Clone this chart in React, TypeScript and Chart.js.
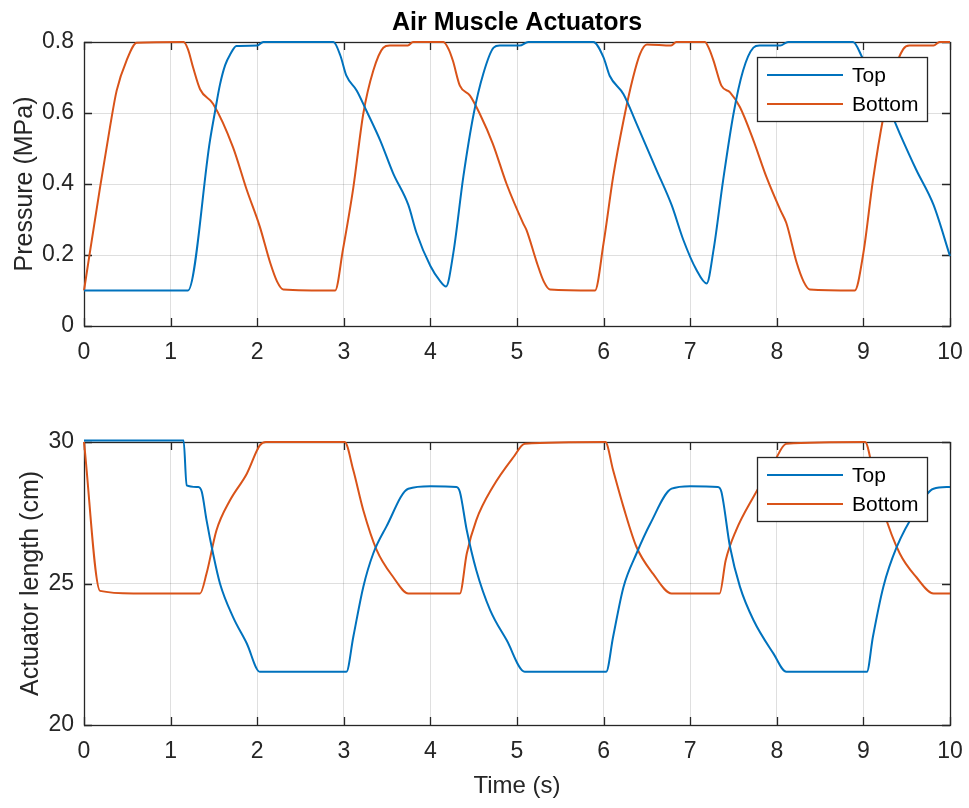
import React, { useEffect, useRef } from "react";
import { Chart, registerables } from "chart.js";
Chart.register(...registerables);

// ---------- data ----------
const timeTicks = [0, 1, 2, 3, 4, 5, 6, 7, 8, 9, 10];
const pressureTicks = [0, 0.2, 0.4, 0.6, 0.8];
const lengthTicks = [20, 25, 30];
const seriesNames = ["Top", "Bottom"];
const seriesColors = ["#0072BD", "#D95319"];
const chartTitle = "Air Muscle Actuators";
const pressureLabel = "Pressure (MPa)";
const lengthLabel = "Actuator length (cm)";
const timeLabel = "Time (s)";

const pressureTopT = [0, 1.2, 1.455, 1.51, 1.57, 1.63, 1.69, 1.76, 2.0, 2.07, 2.88, 2.96, 3.03, 3.15, 3.26, 3.42, 3.57, 3.745, 3.84, 4.0, 4.11, 4.18, 4.265, 4.38, 4.5, 4.61, 4.73, 4.8, 5.03, 5.13, 5.88, 6.0, 6.07, 6.23, 6.38, 6.61, 6.785, 6.92, 7.07, 7.19, 7.27, 7.38, 7.5, 7.61, 7.73, 7.8, 8.04, 8.13, 8.88, 8.98, 9.08, 9.23, 9.42, 9.61, 9.81, 10];
const pressureTopV = [0.1, 0.1, 0.523, 0.6, 0.68, 0.735, 0.766, 0.789, 0.79, 0.8, 0.8, 0.762, 0.705, 0.663, 0.607, 0.523, 0.43, 0.341, 0.262, 0.169, 0.127, 0.111, 0.206, 0.42, 0.598, 0.71, 0.784, 0.79, 0.79, 0.8, 0.8, 0.756, 0.705, 0.653, 0.57, 0.44, 0.341, 0.243, 0.159, 0.12, 0.215, 0.41, 0.598, 0.719, 0.784, 0.79, 0.79, 0.8, 0.8, 0.76, 0.705, 0.649, 0.542, 0.44, 0.341, 0.197];

const pressureBottomT = [0, 0.185, 0.3, 0.377, 0.49, 0.61, 1.15, 1.2, 1.26, 1.34, 1.49, 1.72, 1.88, 2.03, 2.15, 2.23, 2.3, 2.9, 2.99, 3.11, 3.225, 3.34, 3.456, 3.53, 3.74, 3.8, 4.15, 4.21, 4.26, 4.34, 4.457, 4.57, 4.72, 4.88, 5.07, 5.11, 5.23, 5.31, 5.38, 5.9, 6.0, 6.11, 6.23, 6.34, 6.42, 6.5, 6.78, 6.84, 7.17, 7.22, 7.27, 7.36, 7.46, 7.575, 7.73, 7.88, 8.04, 8.11, 8.23, 8.31, 8.38, 8.9, 9.0, 9.11, 9.23, 9.345, 9.46, 9.53, 9.81, 9.88, 10];
const pressureBottomV = [0.1, 0.39, 0.56, 0.663, 0.747, 0.798, 0.8, 0.78, 0.728, 0.667, 0.626, 0.504, 0.383, 0.28, 0.178, 0.125, 0.103, 0.1, 0.215, 0.39, 0.598, 0.719, 0.784, 0.79, 0.79, 0.8, 0.8, 0.78, 0.747, 0.677, 0.649, 0.598, 0.514, 0.4, 0.29, 0.27, 0.178, 0.125, 0.103, 0.1, 0.234, 0.42, 0.579, 0.7, 0.766, 0.793, 0.79, 0.8, 0.8, 0.78, 0.747, 0.677, 0.658, 0.616, 0.523, 0.42, 0.327, 0.29, 0.178, 0.125, 0.103, 0.1, 0.206, 0.41, 0.588, 0.71, 0.78, 0.79, 0.79, 0.8, 0.8];

const lengthTopT = [0, 1.15, 1.185, 1.32, 1.36, 1.415, 1.49, 1.57, 1.72, 1.88, 2.03, 3.03, 3.11, 3.225, 3.34, 3.49, 3.745, 4.0, 4.3, 4.34, 4.42, 4.53, 4.69, 4.88, 5.09, 6.03, 6.11, 6.23, 6.38, 6.54, 6.785, 7.0, 7.32, 7.36, 7.46, 7.575, 7.73, 7.96, 8.11, 9.04, 9.11, 9.23, 9.385, 9.61, 9.81, 10];
const lengthTopV = [30.05, 30.05, 28.47, 28.41, 28.24, 27.24, 26.06, 25.0, 23.82, 22.88, 21.88, 21.88, 23.12, 24.88, 26.06, 27.0, 28.35, 28.44, 28.41, 28.24, 26.88, 25.47, 24.06, 23.0, 21.88, 21.88, 23.12, 24.88, 26.06, 27.12, 28.35, 28.44, 28.41, 28.24, 26.29, 24.88, 23.71, 22.53, 21.88, 21.88, 23.12, 24.88, 26.29, 27.59, 28.35, 28.41];

const lengthBottomT = [0, 0.185, 0.57, 1.34, 1.415, 1.53, 1.686, 1.88, 2.03, 2.1, 3.01, 3.11, 3.225, 3.38, 3.57, 3.745, 4.34, 4.42, 4.53, 4.72, 4.96, 5.09, 6.02, 6.11, 6.23, 6.38, 6.57, 6.785, 7.34, 7.41, 7.53, 7.73, 7.96, 8.11, 9.02, 9.11, 9.23, 9.42, 9.61, 9.81, 10];
const lengthBottomV = [30, 24.74, 24.65, 24.65, 25.35, 26.88, 27.94, 28.88, 29.88, 30, 30, 29.0, 27.59, 26.18, 25.23, 24.65, 24.65, 26.06, 27.24, 28.41, 29.47, 29.94, 30, 29.0, 27.7, 26.29, 25.35, 24.65, 24.65, 25.82, 26.88, 28.06, 29.24, 29.94, 30, 29.0, 27.59, 26.06, 25.23, 24.65, 24.65];

// ---------- styling ----------
const FONT = '"Liberation Sans", Arial, Helvetica, sans-serif';
const AXIS_COLOR = "#262626";
const GRID_COLOR = "rgba(38,38,38,0.15)";
const WIDTH = 969;
const PLOT_LEFT = 84;
const PLOT_RIGHT = 950;

const toPoints = (t: number[], v: number[]) => t.map((x, i) => ({ x, y: v[i] }));

function axesPlugin(title: string | null) {
  return {
    id: "matlabAxes",
    beforeDatasetsDraw(chart: any) {
      const { ctx, chartArea } = chart;
      const { left, right, top, bottom } = chartArea;
      const xs = chart.scales.x;
      const ys = chart.scales.y;
      const TL = 8;
      ctx.save();
      ctx.strokeStyle = AXIS_COLOR;
      ctx.lineWidth = 1.3;
      ctx.beginPath();
      xs.ticks.forEach((tk: any) => {
        const px = Math.round(xs.getPixelForValue(tk.value)) + 0.5;
        ctx.moveTo(px, bottom);
        ctx.lineTo(px, bottom - TL);
        ctx.moveTo(px, top);
        ctx.lineTo(px, top + TL);
      });
      ys.ticks.forEach((tk: any) => {
        const py = Math.round(ys.getPixelForValue(tk.value)) + 0.5;
        ctx.moveTo(left, py);
        ctx.lineTo(left + TL, py);
        ctx.moveTo(right, py);
        ctx.lineTo(right - TL, py);
      });
      ctx.stroke();
      ctx.strokeRect(Math.round(left) + 0.5, Math.round(top) + 0.5, Math.round(right - left), Math.round(bottom - top));
      ctx.restore();
    },
    afterDraw(chart: any) {
      const { ctx, chartArea } = chart;
      const { top, right } = chartArea;
      ctx.save();
      const bw = 170, bh = 64;
      const bx = Math.round(right - 23 - bw);
      const by = Math.round(top + 15);
      ctx.fillStyle = "#ffffff";
      ctx.fillRect(bx, by, bw, bh);
      ctx.strokeStyle = AXIS_COLOR;
      ctx.lineWidth = 1.3;
      ctx.strokeRect(bx + 0.5, by + 0.5, bw, bh);
      ctx.font = `21px ${FONT}`;
      ctx.textBaseline = "middle";
      ctx.textAlign = "left";
      chart.data.datasets.forEach((ds: any, i: number) => {
        const cy = by + 18 + i * 29;
        ctx.strokeStyle = ds.borderColor;
        ctx.lineWidth = 2;
        ctx.beginPath();
        ctx.moveTo(bx + 10, cy);
        ctx.lineTo(bx + 86, cy);
        ctx.stroke();
        ctx.fillStyle = "#000000";
        ctx.fillText(ds.label, bx + 95, cy + 1);
      });
      if (title) {
        ctx.font = `bold 25px ${FONT}`;
        ctx.fillStyle = "#000000";
        ctx.textAlign = "center";
        ctx.textBaseline = "alphabetic";
        ctx.fillText(title, (chartArea.left + chartArea.right) / 2, 30);
      }
      ctx.restore();
    },
  };
}

function makeConfig(p: {
  height: number;
  plotTop: number;
  plotBottom: number;
  series: { label: string; color: string; t: number[]; v: number[] }[];
  yMin: number;
  yMax: number;
  yTicks: number[];
  yTitle: string;
  yTitlePad: number;
  xTitle: string | null;
  title: string | null;
}): any {
  return {
    type: "line",
    data: {
      datasets: p.series.map((s) => ({
        label: s.label,
        data: toPoints(s.t, s.v),
        borderColor: s.color,
        backgroundColor: s.color,
        borderWidth: 2,
        pointRadius: 0,
        cubicInterpolationMode: "monotone",
        fill: false,
        clip: 3,
      })),
    },
    options: {
      responsive: false,
      animation: false,
      devicePixelRatio: 1,
      layout: { padding: { left: 0, right: WIDTH - PLOT_RIGHT, top: p.plotTop, bottom: 0 } },
      plugins: { legend: { display: false }, tooltip: { enabled: false }, title: { display: false } },
      scales: {
        x: {
          type: "linear",
          min: 0,
          max: 10,
          afterBuildTicks: (s: any) => {
            s.ticks = timeTicks.map((v) => ({ value: v }));
          },
          afterFit: (s: any) => {
            s.height = p.height - p.plotBottom;
            s.paddingLeft = 0;
            s.paddingRight = 0;
          },
          ticks: {
            autoSkip: false,
            maxRotation: 0,
            padding: 13,
            color: AXIS_COLOR,
            font: { family: FONT, size: 23 },
            callback: (v: any) => String(v),
          },
          grid: { color: GRID_COLOR, lineWidth: 1, drawTicks: false },
          border: { display: false },
          title: p.xTitle
            ? {
                display: true,
                text: p.xTitle,
                color: AXIS_COLOR,
                font: { family: FONT, size: 24 },
                padding: { top: 0, bottom: 7 },
              }
            : { display: false },
        },
        y: {
          type: "linear",
          min: p.yMin,
          max: p.yMax,
          afterBuildTicks: (s: any) => {
            s.ticks = p.yTicks.map((v) => ({ value: v }));
          },
          afterFit: (s: any) => {
            s.width = PLOT_LEFT;
            s.paddingTop = 0;
            s.paddingBottom = 0;
          },
          ticks: {
            padding: 10,
            color: AXIS_COLOR,
            font: { family: FONT, size: 23 },
            callback: (v: any) => String(+Number(v).toFixed(3)),
          },
          grid: { color: GRID_COLOR, lineWidth: 1, drawTicks: false },
          border: { display: false },
          title: {
            display: true,
            text: p.yTitle,
            color: AXIS_COLOR,
            font: { family: FONT, size: 25 },
            padding: { top: p.yTitlePad, bottom: 0 },
          },
        },
      },
    },
    plugins: [axesPlugin(p.title)],
  };
}

const TOP_H = 400;
const BOT_H = 408;

export default function App() {
  const topRef = useRef<HTMLCanvasElement | null>(null);
  const botRef = useRef<HTMLCanvasElement | null>(null);

  useEffect(() => {
    const c1 = new Chart(
      topRef.current as HTMLCanvasElement,
      makeConfig({
        height: TOP_H,
        plotTop: 42,
        plotBottom: 326,
        series: [
          { label: seriesNames[0], color: seriesColors[0], t: pressureTopT, v: pressureTopV },
          { label: seriesNames[1], color: seriesColors[1], t: pressureBottomT, v: pressureBottomV },
        ],
        yMin: 0,
        yMax: 0.8,
        yTicks: pressureTicks,
        yTitle: pressureLabel,
        yTitlePad: 10,
        xTitle: null,
        title: chartTitle,
      })
    );
    const c2 = new Chart(
      botRef.current as HTMLCanvasElement,
      makeConfig({
        height: BOT_H,
        plotTop: 42,
        plotBottom: 325,
        series: [
          { label: seriesNames[0], color: seriesColors[0], t: lengthTopT, v: lengthTopV },
          { label: seriesNames[1], color: seriesColors[1], t: lengthBottomT, v: lengthBottomV },
        ],
        yMin: 20,
        yMax: 30,
        yTicks: lengthTicks,
        yTitle: lengthLabel,
        yTitlePad: 16,
        xTitle: timeLabel,
        title: null,
      })
    );
    return () => {
      c1.destroy();
      c2.destroy();
    };
  }, []);

  return (
    <div style={{ position: "absolute", left: 0, top: 0, width: WIDTH, height: TOP_H + BOT_H, background: "#ffffff" }}>
      <canvas ref={topRef} width={WIDTH} height={TOP_H} style={{ position: "absolute", left: 0, top: 0, width: WIDTH, height: TOP_H, display: "block" }} />
      <canvas ref={botRef} width={WIDTH} height={BOT_H} style={{ position: "absolute", left: 0, top: TOP_H, width: WIDTH, height: BOT_H, display: "block" }} />
    </div>
  );
}
